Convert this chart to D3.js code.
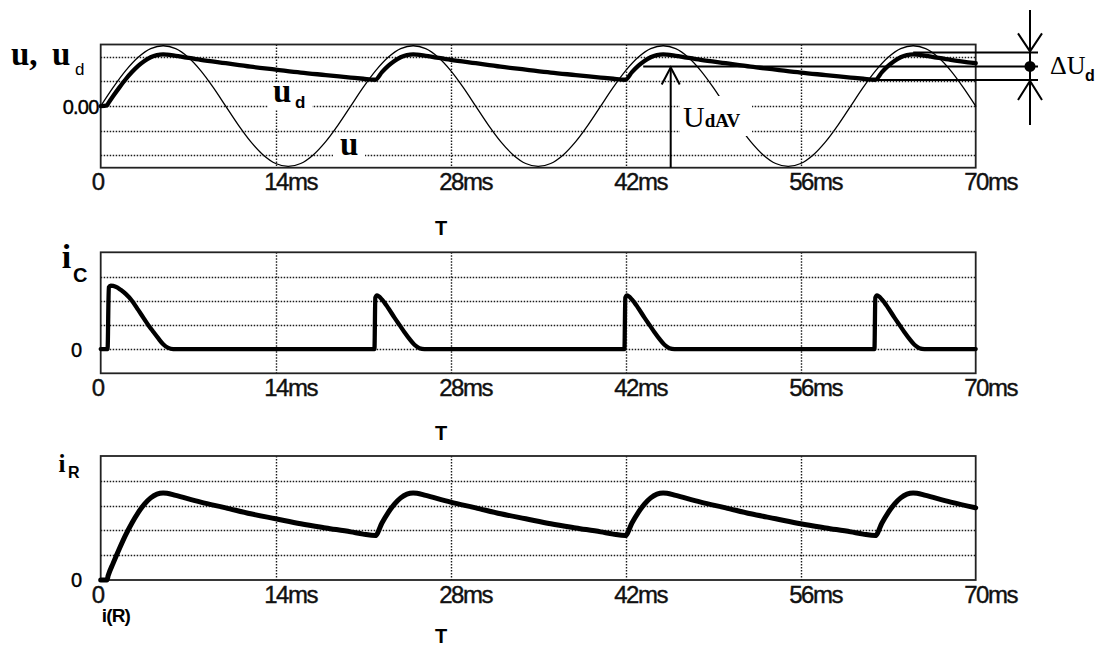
<!DOCTYPE html>
<html><head><meta charset="utf-8">
<script src="https://cdn.jsdelivr.net/npm/d3@7"></script>
<style>body{margin:0;background:#fff}svg{display:block}</style>
</head><body>
<svg id="c" width="1103" height="648"></svg>
<script>
// ---------- data (values in grid divisions, time in ms) ----------
const timeTicks = [0, 14, 28, 42, 56, 70];
const tickLabels = ["0", "14ms", "28ms", "42ms", "56ms", "70ms"];

// supply voltage u (1 ms samples)
const uTime = d3.range(0, 71, 1);
const uVals = [0,0.76,1.44,1.98,2.33,2.45,2.33,1.98,1.44,0.76,0,-0.76,-1.44,-1.98,-2.33,-2.45,-2.33,-1.98,-1.44,-0.76,
               0,0.76,1.44,1.98,2.33,2.45,2.33,1.98,1.44,0.76,0,-0.76,-1.44,-1.98,-2.33,-2.45,-2.33,-1.98,-1.44,-0.76,
               0,0.76,1.44,1.98,2.33,2.45,2.33,1.98,1.44,0.76,0,-0.76,-1.44,-1.98,-2.33,-2.45,-2.33,-1.98,-1.44,-0.76,
               0,0.76,1.44,1.98,2.33,2.45,2.33,1.98,1.44,0.76,0];

// output voltage ud
const udTime = [0,0.5,0.6,1,1.5,2,2.5,3,3.5,4,4.5,5,5.3,6,8,10,12,14,16,18,20,21,21.97,
                22.5,23,23.5,24,24.5,25,25.3,26,28,30,32,34,36,38,40,41,41.97,
                42.5,43,43.5,44,44.5,45,45.3,46,48,50,52,54,56,58,60,61,61.97,
                62.5,63,63.5,64,64.5,65,65.3,66,68,70];
const udVals = [0,0.03,0.11,0.41,0.76,1.09,1.38,1.63,1.83,1.98,2.07,2.10,2.09,2.04,1.88,1.74,1.60,1.48,1.36,1.26,1.16,1.11,1.07,
                1.38,1.63,1.83,1.98,2.07,2.10,2.09,2.04,1.88,1.74,1.60,1.48,1.36,1.26,1.16,1.11,1.07,
                1.38,1.63,1.83,1.98,2.07,2.10,2.09,2.04,1.88,1.74,1.60,1.48,1.36,1.26,1.16,1.11,1.07,
                1.38,1.63,1.83,1.98,2.07,2.10,2.09,2.04,1.88,1.74];

// capacitor current iC
const icTime = [0,0.55,0.65,0.8,1.2,1.6,2.0,2.5,3.0,3.5,3.8,4.2,4.6,5.0,5.4,5.8,
                21.9,21.97,22.1,22.5,23.0,23.5,23.9,24.3,24.7,25.1,25.5,25.9,
                41.9,41.97,42.1,42.5,43.0,43.5,43.9,44.3,44.7,45.1,45.5,45.9,
                61.9,61.97,62.1,62.5,63.0,63.5,63.9,64.3,64.7,65.1,65.5,65.9,70];
const icVals = [0,0,2.55,2.62,2.58,2.45,2.28,2.0,1.62,1.23,1.0,0.72,0.45,0.2,0.05,0,
                0,2.12,2.22,2.05,1.7,1.3,1.0,0.7,0.42,0.18,0.04,0,
                0,2.12,2.22,2.05,1.7,1.3,1.0,0.7,0.42,0.18,0.04,0,
                0,2.12,2.22,2.05,1.7,1.3,1.0,0.7,0.42,0.18,0.04,0,0];

// load current iR
const irTime = udTime;
const irVals = [0,0,0.18,0.68,1.27,1.82,2.30,2.72,3.06,3.31,3.46,3.51,3.50,3.41,3.14,2.91,2.67,2.47,2.27,2.10,1.94,1.85,1.79,
                2.30,2.72,3.06,3.31,3.46,3.51,3.50,3.41,3.14,2.91,2.67,2.47,2.27,2.10,1.94,1.85,1.79,
                2.30,2.72,3.06,3.31,3.46,3.51,3.50,3.41,3.14,2.91,2.67,2.47,2.27,2.10,1.94,1.85,1.79,
                2.30,2.72,3.06,3.31,3.46,3.51,3.50,3.41,3.14,2.91];

// annotation levels: ud max, ud average, ud min
const deltaLevels = [2.18, 1.61, 1.06];
const deltaStart = [65, 43.4, 61.9];
const udavTime = 45.6;

// ---------- drawing ----------
const svg = d3.select("#c");
const SERIF = "'Liberation Serif','Times New Roman',serif";
const SANS = "'Liberation Sans',Arial,sans-serif";
const x = d3.scaleLinear().domain([0, 70]).range([100.7, 975.7]);
const snap = v => Math.round(v) + 0.5;

const panels = [
  {top: 44.5, bot: 167.7, dom: [-2.5, 2.5], grid: [-2, -1, 0, 1, 2]},
  {top: 252.3, bot: 373.3, dom: [-1, 4], grid: [0, 1, 2, 3]},
  {top: 456, bot: 580, dom: [0, 5], grid: [1, 2, 3, 4]}
];
panels.forEach(p => { p.y = d3.scaleLinear().domain(p.dom).range([p.bot, p.top]); });

panels.forEach(p => {
  const g = svg.append("g");
  g.selectAll("line.h").data(p.grid).join("line")
    .attr("x1", x(0)).attr("x2", x(70))
    .attr("y1", d => snap(p.y(d))).attr("y2", d => snap(p.y(d)))
    .attr("stroke", "#1a1a1a").attr("stroke-width", 1.4).attr("stroke-dasharray", "1.5,1.5");
  g.selectAll("line.v").data([14, 28, 42, 56]).join("line")
    .attr("x1", d => snap(x(d))).attr("x2", d => snap(x(d)))
    .attr("y1", p.top).attr("y2", p.bot)
    .attr("stroke", "#1a1a1a").attr("stroke-width", 1.4).attr("stroke-dasharray", "1.5,1.5");
  g.append("rect").attr("x", x(0)).attr("y", p.top)
    .attr("width", x(70) - x(0)).attr("height", p.bot - p.top)
    .attr("fill", "none").attr("stroke", "#222").attr("stroke-width", 1.8);
  const ax = svg.append("g").attr("transform", `translate(0,${p.bot})`)
    .call(d3.axisBottom(x).tickValues(timeTicks).tickFormat((d, i) => tickLabels[i]).tickSize(0));
  ax.select(".domain").remove();
  ax.attr("font-size", 24).attr("font-family", SANS);
  ax.selectAll("text").attr("y", 22.8).attr("dy", null)
    .attr("text-anchor", "start").attr("x", d => d === 0 ? -9.5 : -12)
    .attr("fill", "#111").attr("stroke", "#111").attr("stroke-width", 0.4)
    .attr("letter-spacing", "-1.5px");
});

function pts(t, v) { return t.map((d, i) => [d, v[i]]); }
function drawLine(p, data, w, curve) {
  svg.append("path").datum(data)
    .attr("d", d3.line().x(d => x(d[0])).y(d => p.y(d[1])).curve(curve))
    .attr("fill", "none").attr("stroke", "#000").attr("stroke-width", w)
    .attr("stroke-linejoin", "round").attr("stroke-linecap", "round");
}
const P0 = panels[0], P1 = panels[1], P2 = panels[2];
drawLine(P0, pts(uTime, uVals), 1.3, d3.curveCatmullRom.alpha(0.5));
drawLine(P0, pts(udTime, udVals), 4.3, d3.curveMonotoneX);
drawLine(P1, pts(icTime, icVals), 4.3, d3.curveMonotoneX);
drawLine(P2, pts(irTime, irVals), 5, d3.curveMonotoneX);

// label backgrounds
[[268, 83, 44, 27], [333, 138, 32, 22], [680, 96, 72, 40]].forEach(r =>
  svg.append("rect").attr("x", r[0]).attr("y", r[1]).attr("width", r[2]).attr("height", r[3]).attr("fill", "#fff"));

function txt(xp, yp, s, size, fam, weight, anchor) {
  return svg.append("text").attr("x", xp).attr("y", yp).text(s)
    .attr("font-size", size).attr("font-family", fam).attr("font-weight", weight || "normal")
    .attr("text-anchor", anchor || "start").attr("fill", "#000");
}
// axis titles
const t1 = svg.append("text").attr("font-family", SERIF).attr("font-weight", "bold").attr("font-size", 33).attr("y", 65);
t1.append("tspan").attr("x", 11).text("u,");
t1.append("tspan").attr("x", 52).text("u");
txt(75, 75, "d", 17, SANS);
txt(98.5, 113.5, "0.00", 20, SANS).attr("text-anchor", "end").attr("letter-spacing", "-0.8px")
  .attr("stroke", "#000").attr("stroke-width", 0.4);
txt(273, 102, "u", 33, SERIF, "bold");
txt(295, 108, "d", 17, SANS, "bold");
txt(340, 155, "u", 33, SERIF, "bold");

txt(61.7, 268, "i", 34, SERIF, "bold");
txt(73, 281.7, "C", 20, SANS, "bold");
txt(82, 357, "0", 20, SANS, "normal", "end").attr("stroke", "#000").attr("stroke-width", 0.4);

txt(58.5, 472, "i", 25, SERIF, "bold");
txt(68, 478, "R", 16, SANS, "bold");
txt(82, 587, "0", 20, SANS, "normal", "end").attr("stroke", "#000").attr("stroke-width", 0.4);
txt(101.7, 621.5, "i(R)", 19, SANS, "bold").attr("letter-spacing", "-0.8px");

[235, 440, 643].forEach(yy => txt(441, yy, "T", 20, SANS, "bold", "middle"));

// U_dAV arrow
const xa = x(udavTime), yAvg = P0.y(deltaLevels[1]);
svg.append("line").attr("x1", xa).attr("x2", xa).attr("y1", P0.bot).attr("y2", yAvg + 1)
  .attr("stroke", "#000").attr("stroke-width", 2);
svg.append("path").attr("d", `M${xa - 9},${yAvg + 18}L${xa},${yAvg + 1}L${xa + 9},${yAvg + 18}`)
  .attr("fill", "none").attr("stroke", "#000").attr("stroke-width", 2);
const ut = svg.append("text").attr("x", 683).attr("y", 127).attr("font-family", SERIF).attr("fill", "#000");
ut.append("tspan").attr("font-size", 30).text("U");
ut.append("tspan").attr("font-size", 19).attr("font-weight", "bold").text("dAV");

// delta U_d dimension
const xr = 1038, xd = 1030;
deltaLevels.forEach((v, i) => {
  svg.append("line").attr("x1", x(deltaStart[i])).attr("x2", xr)
    .attr("y1", P0.y(v)).attr("y2", P0.y(v)).attr("stroke", "#000").attr("stroke-width", 2);
});
const yMax = P0.y(deltaLevels[0]), yMin = P0.y(deltaLevels[2]);
svg.append("line").attr("x1", xd).attr("x2", xd).attr("y1", 10).attr("y2", 125)
  .attr("stroke", "#000").attr("stroke-width", 2);
svg.append("path").attr("d", `M${xd - 12},${yMax - 19}L${xd},${yMax - 1}L${xd + 12},${yMax - 19}`)
  .attr("fill", "none").attr("stroke", "#000").attr("stroke-width", 2);
svg.append("path").attr("d", `M${xd - 12},${yMin + 20}L${xd},${yMin + 1}L${xd + 12},${yMin + 20}`)
  .attr("fill", "none").attr("stroke", "#000").attr("stroke-width", 2);
svg.append("circle").attr("cx", xd).attr("cy", yAvg).attr("r", 5.5).attr("fill", "#000");
txt(1050, 74, "ΔU", 26, SERIF);
txt(1085, 81, "d", 16, SANS, "bold");
</script>
</body></html>
